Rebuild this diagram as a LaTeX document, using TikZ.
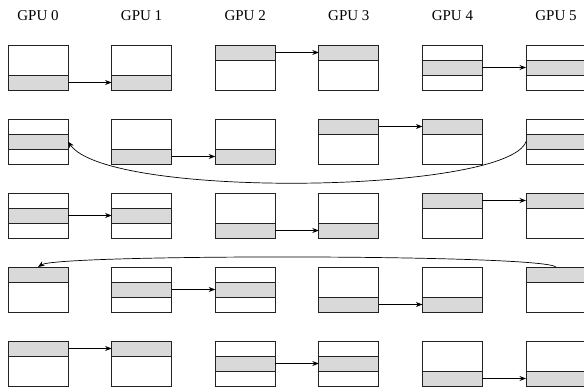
\documentclass[tikz,border=0pt]{standalone}
\usepackage{fontspec}
\setmainfont{Liberation Serif}
\usetikzlibrary{arrows.meta,calc}
\definecolor{stripgray}{HTML}{D9D9D9}
\definecolor{edgec}{HTML}{222222}
\tikzset{
  gbox/.style={draw=edgec,line width=0.9pt,minimum width=60pt,minimum height=45pt,inner sep=0pt,outer sep=0pt},
  strip/.style={fill=stripgray,draw=edgec,line width=0.9pt},
  arr/.style={draw=black,line width=0.7pt,-{Stealth[length=6.5pt,width=5pt]}},
  lab/.style={font=\fontsize{15}{16}\selectfont,anchor=base,inner sep=0pt}
}
\newcommand\gpubox[4]{% name, left x, top y, strip index
  \filldraw[strip] (#2,#3+#4*15) rectangle ++(60,15);
  \node[gbox] (#1) at (#2+30,#3+22.5) {};
}
\begin{document}
\begin{tikzpicture}[x=1pt,y=-1pt]
\useasboundingbox (0,0) rectangle (584,387);
% labels
\foreach \i/\x in {0/38,1/141.6,2/245.2,3/348.8,4/452.4,5/556}{
  \node[lab] (g\i) at (\x,21) {GPU \i};
}
% row 0
\gpubox{b00}{8}{45}{2}\gpubox{b01}{111.6}{45}{2}\gpubox{b02}{215.2}{45}{0}
\gpubox{b03}{318.8}{45}{0}\gpubox{b04}{422.4}{45}{1}\gpubox{b05}{526}{45}{1}
% row 1
\gpubox{b10}{8}{119}{1}\gpubox{b11}{111.6}{119}{2}\gpubox{b12}{215.2}{119}{2}
\gpubox{b13}{318.8}{119}{0}\gpubox{b14}{422.4}{119}{0}\gpubox{b15}{526}{119}{1}
% row 2
\gpubox{b20}{8}{193}{1}\gpubox{b21}{111.6}{193}{1}\gpubox{b22}{215.2}{193}{2}
\gpubox{b23}{318.8}{193}{2}\gpubox{b24}{422.4}{193}{0}\gpubox{b25}{526}{193}{0}
% row 3
\gpubox{b30}{8}{267}{0}\gpubox{b31}{111.6}{267}{1}\gpubox{b32}{215.2}{267}{1}
\gpubox{b33}{318.8}{267}{2}\gpubox{b34}{422.4}{267}{2}\gpubox{b35}{526}{267}{0}
% row 4
\gpubox{b40}{8}{341}{0}\gpubox{b41}{111.6}{341}{0}\gpubox{b42}{215.2}{341}{1}
\gpubox{b43}{318.8}{341}{1}\gpubox{b44}{422.4}{341}{2}\gpubox{b45}{526}{341}{2}
% straight arrows: from/to/strip
\foreach \a/\b/\s in {b00/b01/2,b02/b03/0,b04/b05/1,
                      b11/b12/2,b13/b14/0,
                      b20/b21/1,b22/b23/2,b24/b25/0,
                      b31/b32/1,b33/b34/2,
                      b40/b41/0,b42/b43/1,b44/b45/2}{
  \draw[arr] ([yshift=-7.5pt-\s*15pt]\a.north east) -- ([yshift=-7.5pt-\s*15pt]\b.north west);
}
% curved arrows
\draw[arr] (b15.west) .. controls +(-18,52) and +(40,58) .. (b10.east);
\draw[arr] (b35.north) .. controls +(-14,-13) and +(20,-13) .. (b30.north);
\end{tikzpicture}
\end{document}
